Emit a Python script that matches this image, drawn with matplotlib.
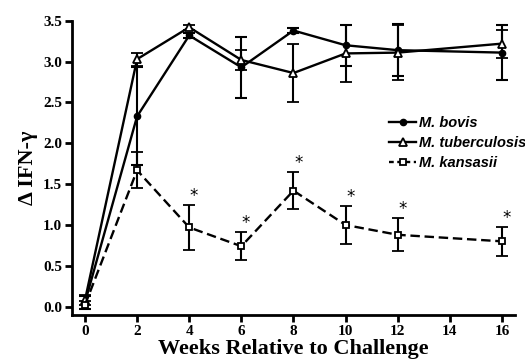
import matplotlib
matplotlib.use("Agg")
import matplotlib.pyplot as plt
from matplotlib.lines import Line2D

# weeks relative to challenge
weeks = [0, 2, 4, 6, 8, 10, 12, 16]

# delta IFN-gamma
bovis = [0.05, 2.33, 3.32, 2.93, 3.38, 3.20, 3.14, 3.11]
bovis_err = [0.08, 0.60, 0.03, 0.37, 0.03, 0.25, 0.32, 0.34]
tb = [0.08, 3.03, 3.42, 3.02, 2.86, 3.10, 3.11, 3.22]
tb_err = [0.06, 0.08, 0.03, 0.12, 0.36, 0.35, 0.34, 0.17]
kans = [0.02, 1.67, 0.97, 0.74, 1.42, 1.00, 0.88, 0.80]
kans_err = [0.05, 0.22, 0.28, 0.17, 0.23, 0.23, 0.20, 0.18]
signif = [False, False, True, True, True, True, True, True]

xticks = [0, 2, 4, 6, 8, 10, 12, 14, 16]
yticks = [0.0, 0.5, 1.0, 1.5, 2.0, 2.5, 3.0, 3.5]

serif = ['Liberation Serif', 'DejaVu Serif']

fig = plt.figure(figsize=(5.25, 3.64), dpi=100)
ax = fig.add_axes([0.137, 0.135, 0.844, 0.808])

eb = dict(capsize=4.5, elinewidth=1.5, capthick=1.5, color='black', lw=1.7)
ax.errorbar(weeks, bovis, yerr=bovis_err, marker='o', ms=4.5, mfc='black', **eb)
ax.errorbar(weeks, tb, yerr=tb_err, marker='^', ms=5.5, mfc='white', mew=1.3, **eb)
ax.errorbar(weeks, kans, yerr=kans_err, marker='s', ms=5, mfc='white', mew=1.3,
            ls='--', dashes=(4, 2), **eb)

# significance asterisks above M. kansasii error bars
for w, v, e, s in zip(weeks, kans, kans_err, signif):
    if s:
        ax.text(w + 0.18, v + e + 0.0, '*', ha='center', va='bottom',
                fontsize=12, family=['DejaVu Sans'], color='black')

ax.set_xlim(-0.5, 16.5)
ax.set_ylim(-0.1, 3.5)
ax.set_xticks(xticks)
ax.set_yticks(yticks)
ax.set_xticklabels([str(t) for t in xticks])
ax.set_yticklabels(['%.1f' % t for t in yticks])
for lab in ax.get_xticklabels() + ax.get_yticklabels():
    lab.set_fontfamily(serif)
    lab.set_fontweight('bold')
    lab.set_fontsize(11)

for side in ['top', 'right']:
    ax.spines[side].set_visible(False)
for side in ['left', 'bottom']:
    ax.spines[side].set_linewidth(2)
ax.tick_params(width=2, length=5, direction='out', pad=2)

ax.set_xlabel('Weeks Relative to Challenge', family=serif, fontweight='bold',
              fontsize=16, labelpad=1)
ax.set_ylabel('\u0394 IFN-\u03b3', family=serif, fontweight='bold',
              fontsize=16, labelpad=4)

handles = [
    Line2D([], [], color='black', lw=1.7, marker='o', ms=4.5, mfc='black'),
    Line2D([], [], color='black', lw=1.7, marker='^', ms=5.5, mfc='white', mew=1.3),
    Line2D([], [], color='black', lw=1.7, marker='s', ms=5, mfc='white', mew=1.3,
           ls='--', dashes=(2, 1.5)),
]
labels = ['M. bovis', 'M. tuberculosis', 'M. kansasii']
ax.legend(handles, labels, loc='upper left', bbox_to_anchor=(0.716, 0.676),
          frameon=False, borderpad=0, borderaxespad=0,
          handlelength=1.85, handletextpad=0.2, labelspacing=0.42,
          prop=dict(family=['Liberation Sans', 'DejaVu Sans'],
                    style='italic', weight='bold', size=10.5))

fig.savefig('out.png', dpi=100)
